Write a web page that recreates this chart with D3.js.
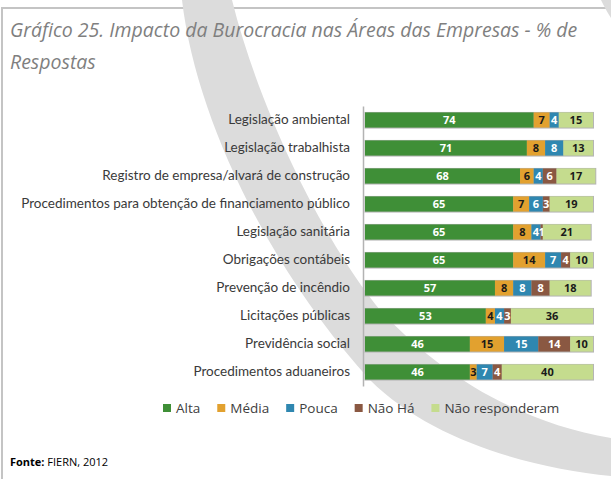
<!DOCTYPE html>
<html>
<head>
<meta charset="utf-8">
<script src="https://cdn.jsdelivr.net/npm/d3@7"></script>
<style>
  html, body { margin: 0; padding: 0; background: #fff; }
  svg { display: block; }
</style>
</head>
<body>
<svg id="chart" width="611" height="479"></svg>
<script>
// Áreas avaliadas (de cima para baixo)
const categories = [
  "Legislação ambiental",
  "Legislação trabalhista",
  "Registro de empresa/alvará de construção",
  "Procedimentos para obtenção de financiamento público",
  "Legislação sanitária",
  "Obrigações contábeis",
  "Prevenção de incêndio",
  "Licitações públicas",
  "Previdência social",
  "Procedimentos aduaneiros"
];

// % de respostas por nível de impacto
const alta           = [74, 71, 68, 65, 65, 65, 57, 53, 46, 46];
const media          = [ 7,  8,  6,  7,  8, 14,  8,  4, 15,  3];
const pouca          = [ 4,  8,  4,  6,  4,  7,  8,  4, 15,  7];
const naoHa          = [ 0,  0,  6,  3,  1,  4,  8,  3, 14,  4];
const naoResponderam = [15, 13, 17, 19, 21, 10, 18, 36, 10, 40];

const seriesNames  = ["Alta", "Média", "Pouca", "Não Há", "Não responderam"];
const seriesValues = [alta, media, pouca, naoHa, naoResponderam];
const seriesColors = ["#3f8f37", "#e2a12f", "#2f87b0", "#8a5842", "#c5dc8e"];
const labelColors  = ["#ffffff", "#1a1a1a", "#ffffff", "#ffffff", "#1a1a1a"];

const titleLines = [
  "Gráfico 25. Impacto da Burocracia nas Áreas das Empresas - % de",
  "Respostas"
];

const svg = d3.select("#chart");

// moldura do quadro
svg.append("path")
  .attr("d", "M2,479 L2,8 L611,8")
  .attr("fill", "none")
  .attr("stroke", "#c4c4c4")
  .attr("stroke-width", 2);

// faixa decorativa de fundo
svg.append("path")
  .attr("d", "M182,0 C196,120 270,270 370,380 C430,440 530,468 611,476 L611,438 " +
             "C520,423 440,375 380,310 C330,250 262,120 232,0 Z")
  .attr("fill", "#dcdcdc");
svg.append("path")
  .attr("d", "M601,0 L611,0 L611,18 C607,12 604,6 601,0 Z")
  .attr("fill", "#dcdcdc");

// título
const title = svg.append("text")
  .attr("font-family", "'Open Sans', sans-serif")
  .attr("font-style", "italic")
  .attr("font-size", 19.5)
  .attr("fill", "#7f7f7f");
titleLines.forEach((t, i) => {
  title.append("tspan").attr("x", 10).attr("y", 37 + i * 32).text(t);
});

// escalas
const x = d3.scaleLinear().domain([0, 100]).range([365, 593]);
const y = d3.scaleBand().domain(categories).range([106, 386])
  .paddingInner(0.46).paddingOuter(0.23);

// dados empilhados
const rows = categories.map((c, i) => {
  const r = { category: c };
  seriesNames.forEach((s, k) => { r[s] = seriesValues[k][i]; });
  return r;
});
const stack = d3.stack().keys(seriesNames)(rows);

const g = svg.append("g");

// contorno de cada barra
g.selectAll("rect.outline")
  .data(rows)
  .join("rect")
  .attr("class", "outline")
  .attr("x", x(0) - 0.5)
  .attr("y", d => y(d.category) - 0.5)
  .attr("width", d => x(d3.sum(seriesNames, s => d[s])) - x(0) + 1.5)
  .attr("height", y.bandwidth() + 1.5)
  .attr("fill", "#b5b5b5");

stack.forEach((layer, k) => {
  const lg = g.append("g");
  lg.selectAll("rect")
    .data(layer)
    .join("rect")
    .attr("x", d => x(d[0]))
    .attr("y", d => y(d.data.category))
    .attr("width", d => x(d[1]) - x(d[0]))
    .attr("height", y.bandwidth())
    .attr("fill", seriesColors[k]);
  lg.selectAll("text")
    .data(layer.filter(d => d[1] - d[0] > 0))
    .join("text")
    .attr("x", d => (x(d[0]) + x(d[1])) / 2)
    .attr("y", d => y(d.data.category) + y.bandwidth() / 2)
    .attr("dy", "0.36em")
    .attr("text-anchor", "middle")
    .attr("font-family", "'Open Sans', sans-serif")
    .attr("font-weight", "bold")
    .attr("font-size", 11)
    .attr("fill", labelColors[k])
    .text(d => d[1] - d[0]);
});

// eixo de categorias
const axis = svg.append("g")
  .attr("transform", `translate(${x(0) - 2},0)`)
  .call(d3.axisLeft(y).tickSize(0).tickPadding(13));
axis.select(".domain").attr("stroke", "#b3b3b3").attr("stroke-width", 1.5);
axis.selectAll("text")
  .attr("font-family", "Lato, sans-serif")
  .attr("font-size", 13.5)
  .attr("fill", "#3a3a3a");

// legenda
const legend = svg.append("g").attr("transform", "translate(0,408)");
let lx = 163;
seriesNames.forEach((s, k) => {
  legend.append("rect")
    .attr("x", lx).attr("y", -4).attr("width", 8).attr("height", 8)
    .attr("fill", seriesColors[k]);
  const t = legend.append("text")
    .attr("x", lx + 13).attr("y", 0).attr("dy", "0.35em")
    .attr("font-family", "'Open Sans', sans-serif")
    .attr("font-size", 13.5)
    .attr("fill", "#404040")
    .text(s);
  lx += 13 + t.node().getComputedTextLength() + 17;
});

// fonte
const src = svg.append("text")
  .attr("x", 10).attr("y", 466)
  .attr("font-family", "'Open Sans', sans-serif")
  .attr("font-size", 11)
  .attr("fill", "#000");
src.append("tspan").attr("font-weight", "bold").text("Fonte:");
src.append("tspan").text(" FIERN, 2012");
</script>
</body>
</html>
